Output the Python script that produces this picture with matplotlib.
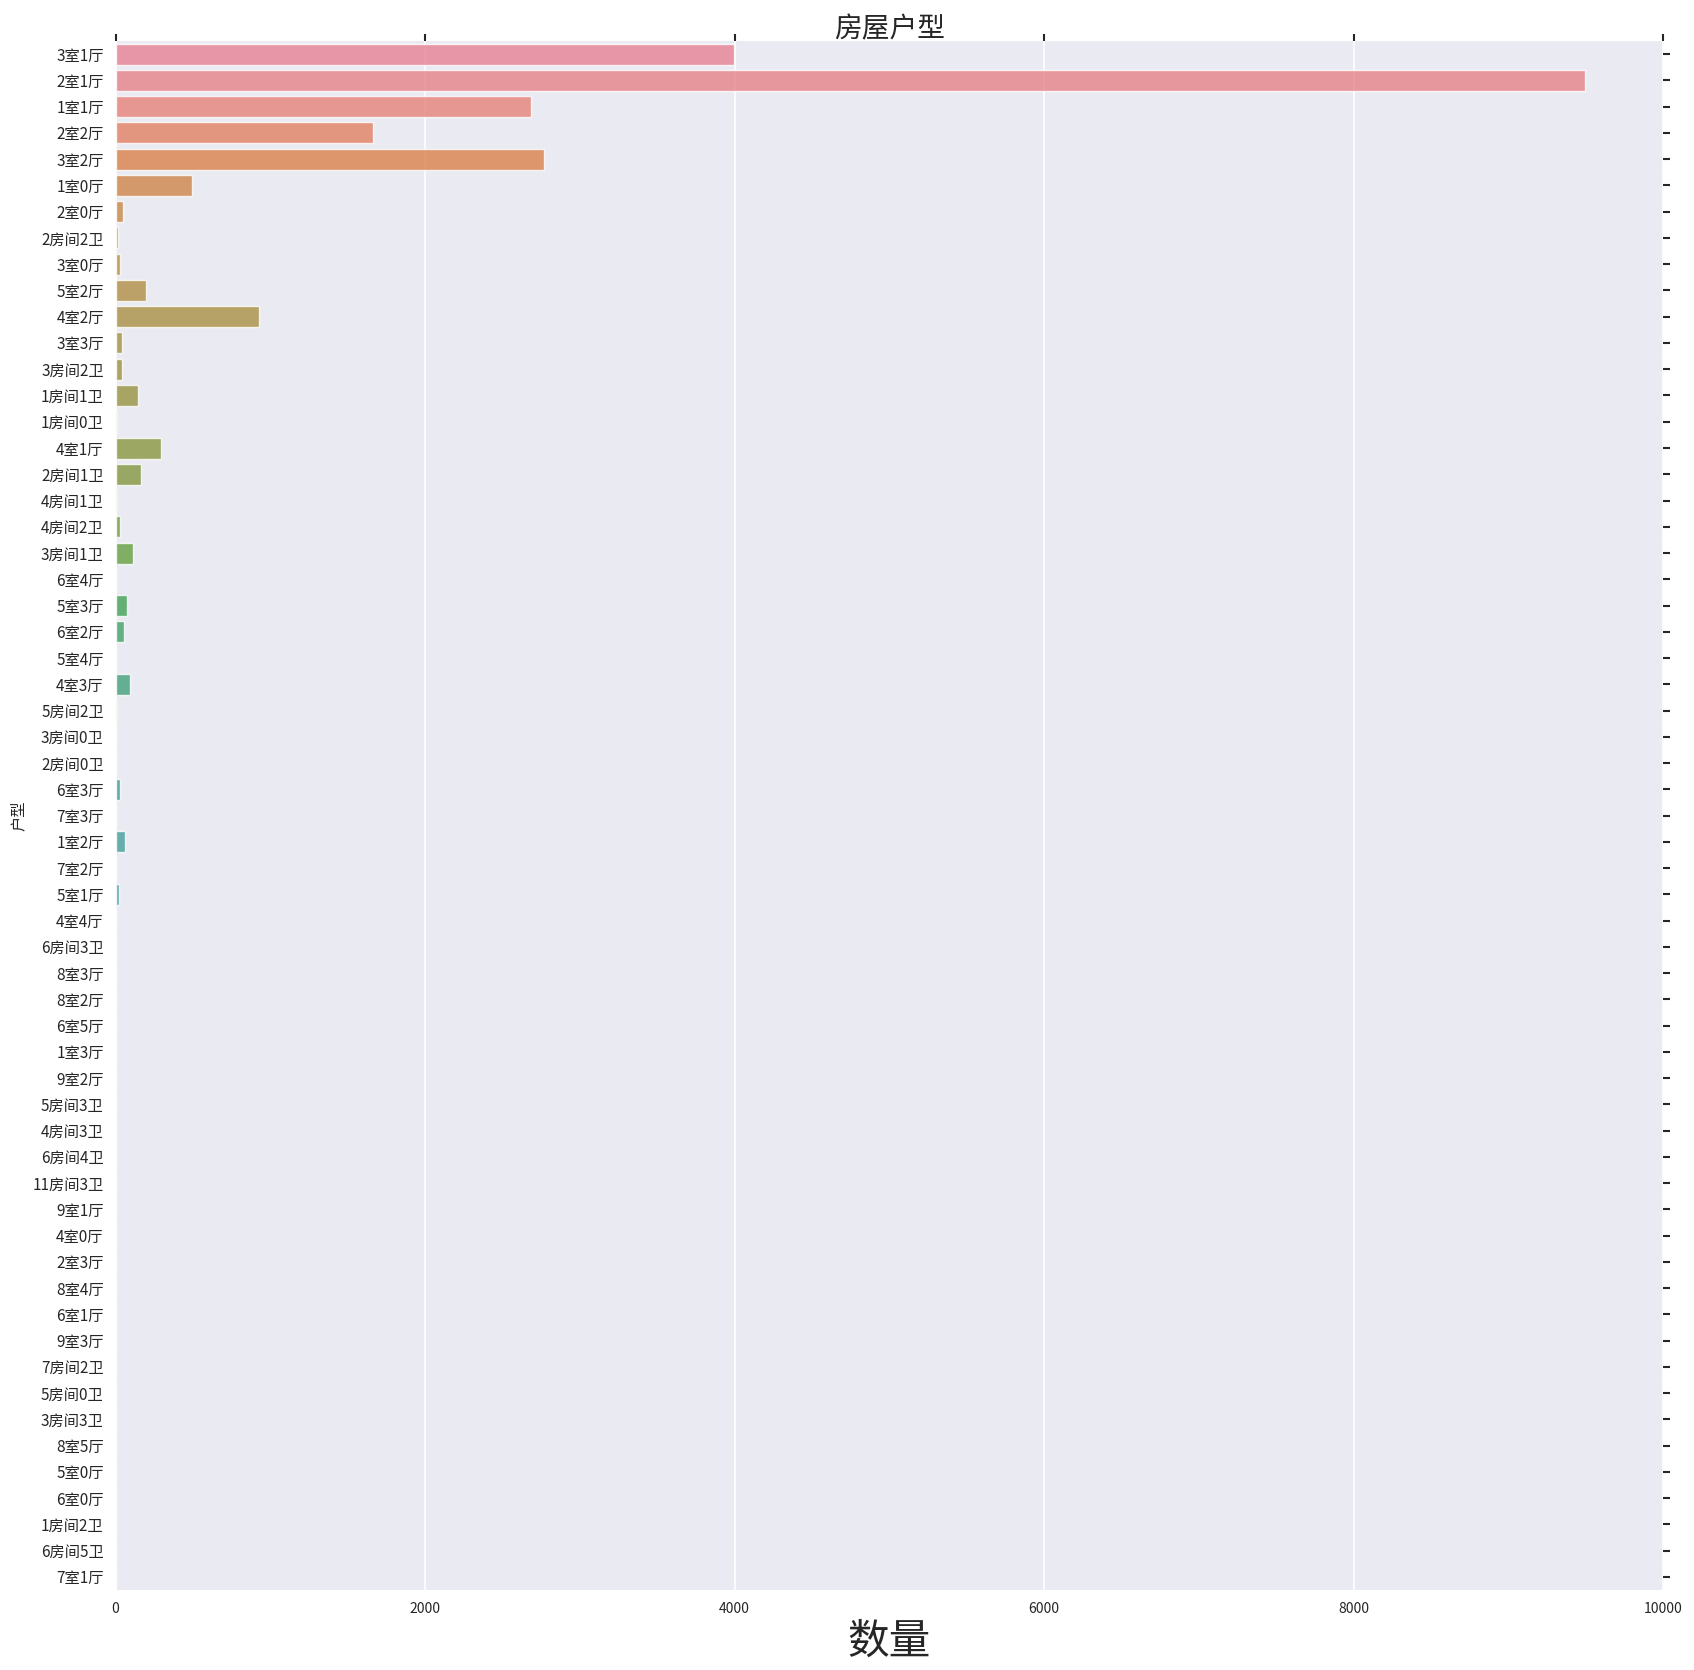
import matplotlib
matplotlib.use("Agg")
import matplotlib.pyplot as plt
import seaborn as sns

# 房屋户型 counts, in the order they appear in the chart
layouts = [
    "3室1厅", "2室1厅", "1室1厅", "2室2厅", "3室2厅", "1室0厅", "2室0厅", "2房间2卫",
    "3室0厅", "5室2厅", "4室2厅", "3室3厅", "3房间2卫", "1房间1卫", "1房间0卫", "4室1厅",
    "2房间1卫", "4房间1卫", "4房间2卫", "3房间1卫", "6室4厅", "5室3厅", "6室2厅", "5室4厅",
    "4室3厅", "5房间2卫", "3房间0卫", "2房间0卫", "6室3厅", "7室3厅", "1室2厅", "7室2厅",
    "5室1厅", "4室4厅", "6房间3卫", "8室3厅", "8室2厅", "6室5厅", "1室3厅", "9室2厅",
    "5房间3卫", "4房间3卫", "6房间4卫", "11房间3卫", "9室1厅", "4室0厅", "2室3厅", "8室4厅",
    "6室1厅", "9室3厅", "7房间2卫", "5房间0卫", "3房间3卫", "8室5厅", "5室0厅", "6室0厅",
    "1房间2卫", "6房间5卫", "7室1厅",
]
counts = [
    3995, 9495, 2684, 1667, 2768, 492, 48, 15,
    27, 195, 925, 39, 44, 143, 9, 293,
    164, 8, 28, 112, 1, 73, 54, 1,
    93, 8, 2, 2, 28, 1, 61, 2,
    22, 1, 1, 1, 1, 1, 1, 1,
    1, 1, 1, 1, 1, 1, 1, 1,
    1, 1, 1, 1, 1, 1, 1, 1,
    1, 1, 1,
]

sns.set_theme(style="darkgrid")
plt.rcParams["font.family"] = ["Noto Sans CJK SC", "DejaVu Sans"]
plt.rcParams["axes.unicode_minus"] = False

colors = [sns.desaturate(c, 0.75) for c in sns.husl_palette(len(layouts))]

fig, ax = plt.subplots(figsize=(16.94, 16.70), dpi=100)
fig.subplots_adjust(left=0.0682, right=0.9817, top=0.9754, bottom=0.0479)

pos = list(range(len(layouts)))
ax.barh(pos, counts, height=0.8, color=colors, alpha=0.8,
        edgecolor="white", linewidth=1)
ax.set_yticks(pos)
ax.set_yticklabels(layouts)
ax.set_ylim(len(layouts) - 0.5, -0.5)
ax.set_xlim(0, 10000)
ax.yaxis.grid(False)
ax.xaxis.grid(True, color="white", linewidth=1.2)

ax.tick_params(axis="both", which="major", length=5, width=1.5, color="#262626",
               top=True, right=True, labeltop=False, labelright=False)
ax.tick_params(axis="y", labelsize=11)
ax.tick_params(axis="x", labelsize=10)
for s in ax.spines.values():
    s.set_visible(False)

ax.set_title("房屋户型", fontsize=20, y=1.0, pad=3)
ax.set_xlabel("数量", fontsize=30)
ax.set_ylabel("户型", fontsize=11)

fig.savefig("out.png", dpi=100)
